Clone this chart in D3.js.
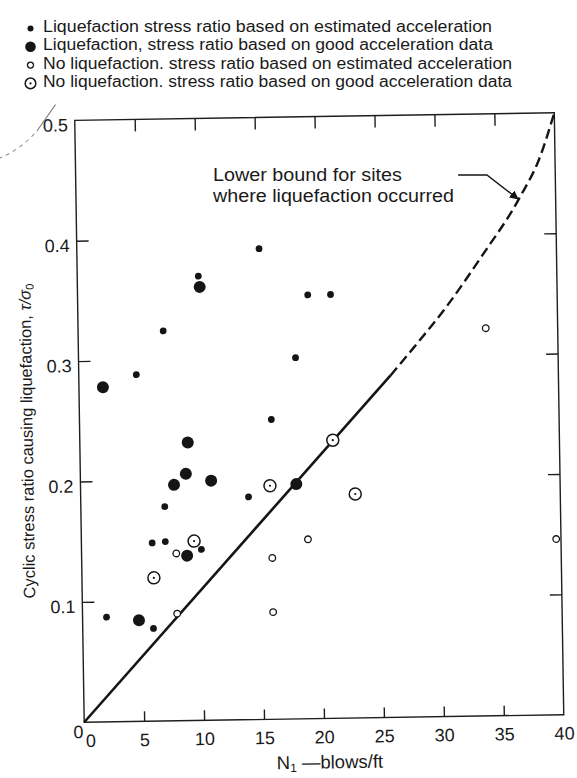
<!DOCTYPE html>
<html>
<head>
<meta charset="utf-8">
<script src="https://cdn.jsdelivr.net/npm/d3@7"></script>
<style>
  body { margin: 0; background: #fff; }
  svg { display: block; font-family: "Liberation Sans", Arial, sans-serif; }
  .frame { fill: none; stroke: #1e1e1e; stroke-width: 1.4px; }
  .axis path { display: none; }
  .axis line { stroke: #1e1e1e; stroke-width: 1.4px; }
  .axis text { font-size: 18px; fill: #1a1a1a; }
  .legend text { font-size: 15.6px; fill: #1a1a1a; }
  .note { font-size: 18px; fill: #1a1a1a; }
  .title { font-size: 18.5px; fill: #1a1a1a; }
  .ytitle { font-size: 16.5px; fill: #1a1a1a; }
</style>
</head>
<body>
<div id="chart"></div>
<script>

var width = 577, height = 778;
var ink = "#151515";

// Liquefaction, stress ratio based on estimated acceleration
var liqEstN = [15.2, 10.1, 19.2, 21.1, 7.1, 18.1, 4.8, 16.0, 14.0, 7.0, 5.9, 7.0, 10.0, 2.0, 5.9];
var liqEstR = [0.391, 0.369, 0.352, 0.352, 0.324, 0.300, 0.288, 0.249, 0.185, 0.178, 0.148, 0.149, 0.142, 0.087, 0.077];

// Liquefaction, stress ratio based on good acceleration data
var liqGoodN = [10.2, 2.0, 9.0, 8.8, 7.8, 10.9, 18.0, 8.8, 4.7];
var liqGoodR = [0.360, 0.278, 0.231, 0.205, 0.196, 0.199, 0.195, 0.137, 0.084];

// No liquefaction, estimated acceleration
var noLiqEstN = [34.0, 7.9, 18.9, 15.9, 7.9, 15.9, 39.6];
var noLiqEstR = [0.322, 0.139, 0.149, 0.134, 0.089, 0.089, 0.146];

// No liquefaction, good acceleration data
var noLiqGoodN = [15.8, 9.4, 6.0, 21.1, 22.9];
var noLiqGoodR = [0.194, 0.149, 0.119, 0.231, 0.186];

// lower bound curve: solid part, then dashed extrapolation
var boundSolidN = [0, 26];
var boundSolidR = [0, 0.284];
var boundDashN = [26, 27.9, 30.8, 33.7, 37, 38.75, 40];
var boundDashR = [0.284, 0.306, 0.341, 0.381, 0.43, 0.4635, 0.5];

// leader from the note to the curve
var arrowN = [31.9, 34.3, 36.86];
var arrowR = [0.4496, 0.4493, 0.4289];

var xTicks = [0, 5, 10, 15, 20, 25, 30, 35, 40];
var yTicks = [0, 0.1, 0.2, 0.3, 0.4, 0.5];

var legendLabels = [
  "Liquefaction  stress ratio based on estimated acceleration",
  "Liquefaction, stress ratio based on good acceleration data",
  "No liquefaction. stress ratio based on estimated acceleration",
  "No liquefaction. stress ratio based on good acceleration data"
];
var legendWidths = [449, 450, 469, 469];
var noteLines = ["Lower bound for sites", "where liquefaction occurred"];
var noteWidths = [189, 241];

var symbols = {
  liqEst:    { r: 3.4, fill: ink, stroke: "none", sw: 0 },
  liqGood:   { r: 6,   fill: ink, stroke: "none", sw: 0 },
  noLiqEst:  { r: 3.3, fill: "#fff", stroke: ink, sw: 1.3 },
  noLiqGood: { r: 6,   fill: "#fff", stroke: ink, sw: 1.5, dot: true }
};

var x = d3.scaleLinear().domain([0, 40]).range([79, 558.6]);
var y = d3.scaleLinear().domain([0, 0.5]).range([719, 117]);

var svg = d3.select("#chart").append("svg")
    .attr("width", width)
    .attr("height", height);

// the scanned figure sits about a degree off square
var page = svg.append("g")
    .attr("transform", "rotate(-0.9," + width / 2 + "," + 389 + ")");

// frame
page.append("rect")
    .attr("class", "frame")
    .attr("x", x(0)).attr("y", y(0.5))
    .attr("width", x(40) - x(0)).attr("height", y(0) - y(0.5));

// axes, ticks pointing inward
var xAxis = page.append("g")
    .attr("class", "axis")
    .attr("transform", "translate(0," + y(0) + ")")
    .call(d3.axisBottom(x).tickValues(xTicks).tickSizeInner(-10).tickSizeOuter(0).tickPadding(12));
xAxis.selectAll(".tick").filter(function(d) { return d === 0 || d === 40; }).select("line").remove();
xAxis.selectAll(".tick").filter(function(d) { return d === 0; }).select("text").attr("dx", 6);

var yAxis = page.append("g")
    .attr("class", "axis")
    .attr("transform", "translate(" + x(0) + ",0)")
    .call(d3.axisLeft(y).tickValues(yTicks).tickSizeInner(-12).tickSizeOuter(0).tickPadding(7)
      .tickFormat(function(d) { return d === 0 ? "0" : d3.format(".1f")(d); }));
yAxis.selectAll(".tick text").attr("dy", "0.58em");
yAxis.selectAll(".tick").filter(function(d) { return d === 0 || d === 0.5; }).select("line").remove();
yAxis.selectAll(".tick").filter(function(d) { return d === 0; }).select("text")
    .attr("x", -1).attr("dy", "0.85em");

page.append("g")
    .attr("class", "axis")
    .attr("transform", "translate(0," + y(0.5) + ")")
    .call(d3.axisTop(x).tickValues(xTicks.slice(1, -1)).tickSizeInner(-12).tickSizeOuter(0).tickFormat(""));

page.append("g")
    .attr("class", "axis")
    .attr("transform", "translate(" + x(40) + ",0)")
    .call(d3.axisRight(y).tickValues(yTicks.slice(1, -1)).tickSizeInner(-12).tickSizeOuter(0).tickFormat(""));

// lower bound
var line = d3.line()
    .x(function(d) { return x(d[0]); })
    .y(function(d) { return y(d[1]); });

page.append("path")
    .datum(d3.zip(boundSolidN, boundSolidR))
    .attr("d", line)
    .attr("fill", "none").attr("stroke", ink).attr("stroke-width", 2.6);

page.append("path")
    .datum(d3.zip(boundDashN, boundDashR))
    .attr("d", line.curve(d3.curveMonotoneX))
    .attr("fill", "none").attr("stroke", ink).attr("stroke-width", 2.4)
    .attr("stroke-dasharray", "10,5");

// note + arrow
svg.append("defs").append("marker")
    .attr("id", "head")
    .attr("viewBox", "0 0 10 10")
    .attr("refX", 9).attr("refY", 5)
    .attr("markerWidth", 9).attr("markerHeight", 9)
    .attr("markerUnits", "userSpaceOnUse")
    .attr("orient", "auto")
  .append("path")
    .attr("d", "M0,0 L10,5 L0,10 z")
    .attr("fill", ink);

page.append("path")
    .datum(d3.zip(arrowN, arrowR))
    .attr("d", d3.line().x(function(d) { return x(d[0]); }).y(function(d) { return y(d[1]); }))
    .attr("fill", "none").attr("stroke", ink).attr("stroke-width", 1.4)
    .attr("marker-end", "url(#head)");

// note text kept square (outside the tilt) so its two lines don't collide
svg.append("g").selectAll("text")
    .data(noteLines)
    .enter().append("text")
      .attr("class", "note")
      .attr("x", 213)
      .attr("y", function(d, i) { return 180.5 + i * 21; })
      .attr("textLength", function(d, i) { return noteWidths[i]; })
      .attr("lengthAdjust", "spacingAndGlyphs")
      .text(function(d) { return d; });

// points
function drawSymbol(sel, s) {
  sel.append("circle")
      .attr("r", s.r)
      .attr("fill", s.fill)
      .attr("stroke", s.stroke)
      .attr("stroke-width", s.sw);
  if (s.dot) sel.append("circle").attr("r", 1.1).attr("fill", ink);
}

function drawSeries(ns, rs, s) {
  var g = page.append("g").selectAll("g")
      .data(d3.zip(ns, rs))
      .enter().append("g")
      .attr("transform", function(d) { return "translate(" + x(d[0]) + "," + y(d[1]) + ")"; });
  drawSymbol(g, s);
}

drawSeries(liqEstN, liqEstR, symbols.liqEst);
drawSeries(liqGoodN, liqGoodR, symbols.liqGood);
drawSeries(noLiqEstN, noLiqEstR, symbols.noLiqEst);
drawSeries(noLiqGoodN, noLiqGoodR, symbols.noLiqGood);

// legend (kept square so the lines stay clear of each other)
var legendKeys = ["liqEst", "liqGood", "noLiqEst", "noLiqGood"];
var legend = svg.append("g").attr("class", "legend");
var item = legend.selectAll("g")
    .data(legendKeys)
    .enter().append("g")
    .attr("transform", function(d, i) { return "translate(30.5," + (32 + i * 18.3) + ")"; });
item.each(function(d) {
  var m = d3.select(this).append("g").attr("transform", "translate(0,-3.5)");
  var s = Object.assign({}, symbols[d]);
  if (s.r > 4) s.r = 5.3;
  else s.r = 3;
  drawSymbol(m, s);
});
item.append("text")
    .attr("x", 12.5)
    .attr("textLength", function(d, i) { return legendWidths[i]; })
    .attr("lengthAdjust", "spacingAndGlyphs")
    .text(function(d, i) { return legendLabels[i]; });

// axis titles
var xt = page.append("text")
    .attr("class", "title")
    .attr("x", 324).attr("y", 769)
    .attr("text-anchor", "middle");
xt.append("tspan").text("N");
xt.append("tspan").attr("font-size", "12px").attr("dy", 3).text("1");
xt.append("tspan").attr("dy", -3).text(" \u2014blows/ft");

var yt = page.append("text")
    .attr("class", "ytitle")
    .attr("transform", "translate(32,437) rotate(-90)")
    .attr("text-anchor", "middle");
yt.append("tspan").text("Cyclic stress ratio causing liquefaction, ");
yt.append("tspan").attr("font-style", "italic").text("\u03c4/\u03c3");
yt.append("tspan").attr("font-size", "11px").attr("dy", 3).text("0");

// faint pencil stroke left on the scan
page.append("path")
    .attr("d", "M2,154 Q24,146 41,127")
    .attr("fill", "none").attr("stroke", "#8a8a8a").attr("stroke-width", 1)
    .attr("stroke-dasharray", "4,4");
page.append("path")
    .attr("d", "M41,127 L60,101")
    .attr("fill", "none").attr("stroke", "#777").attr("stroke-width", 1);

</script>
</body>
</html>
